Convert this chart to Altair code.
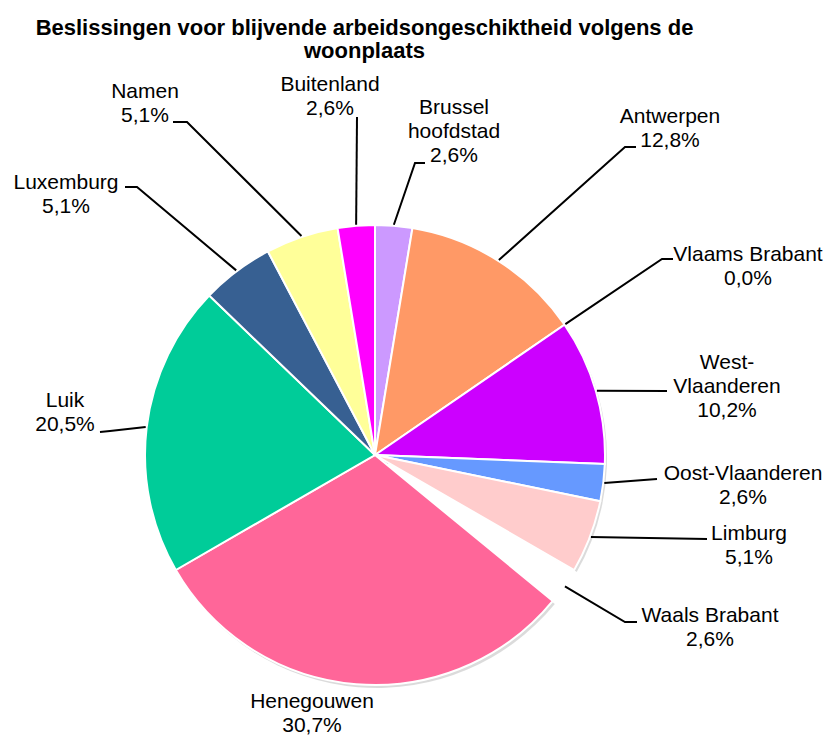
import math
import altair as alt
import pandas as pd

# ---- data ----
names = ["Brussel hoofdstad", "Antwerpen", "Vlaams Brabant", "West-Vlaanderen",
         "Oost-Vlaanderen", "Limburg", "Waals Brabant", "Henegouwen", "Luik",
         "Luxemburg", "Namen", "Buitenland"]
label_names = ["Brussel\nhoofdstad", "Antwerpen", "Vlaams Brabant", "West-\nVlaanderen",
               "Oost-Vlaanderen", "Limburg", "Waals Brabant", "Henegouwen", "Luik",
               "Luxemburg", "Namen", "Buitenland"]
shares = [2.6, 12.8, 0.0, 10.2, 2.6, 5.1, 2.6, 30.7, 20.5, 5.1, 5.1, 2.6]
colors = ["#CC99FF", "#FF9966", "#FF9933", "#CC00FF", "#6699FF", "#FFCCCC",
          "#FFFFFF", "#FF6699", "#00CC99", "#376092", "#FFFF99", "#FF00FF"]
exploded = ["Waals Brabant"]
title_lines = ["Beslissingen voor blijvende arbeidsongeschiktheid volgens de", "woonplaats"]

# ---- layout (page pixels) ----
CX, CY = 375, 455
RADIUS = 230
EXPLODE = 16
# (x centre, y centre of first text line)
label_pos = [(454, 108), (670, 117), (748, 255), (727, 363), (743, 474), (749, 534),
             (710, 616), (312, 702), (65, 401), (66, 183), (145, 92), (330, 85)]
leader_tail = [[(415, 163), (425, 163)], [(625, 147), (636, 147)], [(662, 259), (673, 259)],
               [(667, 391)], [(657, 479)], [(707, 539)], [(625, 622), (637, 622)], [],
               [(110, 431), (100, 432)], [(137, 187), (125, 187)], [(187, 122), (173, 122)],
               [(357, 117)]]

W, H = 819, 669
TOP = 60

total = sum(shares)
arc_rows, shadow_rows, text_rows, line_rows = [], [], [], []
cum = 0.0
for i, (n, v) in enumerate(zip(names, shares)):
    t0 = 2 * math.pi * cum / total
    t1 = 2 * math.pi * (cum + v) / total
    tm = (t0 + t1) / 2
    cum += v
    cx, cy = CX, CY
    if n in exploded:
        cx += EXPLODE * math.sin(tm)
        cy -= EXPLODE * math.cos(tm)
    if v > 0:
        arc_rows.append(dict(name=n, t0=t0, t1=t1, cx=cx, cy=cy))
        if n not in exploded:
            shadow_rows.append(dict(name=n, t0=t0, t1=t1, cx=cx + 2, cy=cy + 3))
    pct = f"{v:.1f}".replace(".", ",") + "%"
    text_rows.append(dict(name=n, label=label_names[i] + "\n" + pct,
                          x=label_pos[i][0], y=label_pos[i][1]))
    if leader_tail[i]:
        sx = CX + (RADIUS + 1) * math.sin(tm)
        sy = CY - (RADIUS + 1) * math.cos(tm)
        pts = [(sx, sy)] + leader_tail[i]
        for k, (px, py) in enumerate(pts):
            line_rows.append(dict(name=n, k=k, x=px, y=py))

arcs = pd.DataFrame(arc_rows)
shadows = pd.DataFrame(shadow_rows)
texts = pd.DataFrame(text_rows)
lines = pd.DataFrame(line_rows)

xs = alt.Scale(domain=[8, 8 + W], nice=False, zero=False)
ys = alt.Scale(domain=[8 + TOP, 8 + TOP + H], nice=False, zero=False, reverse=True)

shadow = alt.Chart(shadows).mark_arc(radius=RADIUS, color="#999999", opacity=0.35).encode(
    theta=alt.Theta("t0:Q", scale=None), theta2="t1:Q",
    x=alt.X("cx:Q", scale=xs, axis=None), y=alt.Y("cy:Q", scale=ys, axis=None))

pie = alt.Chart(arcs).mark_arc(radius=RADIUS, stroke="white", strokeWidth=2).encode(
    theta=alt.Theta("t0:Q", scale=None), theta2="t1:Q",
    x=alt.X("cx:Q", scale=xs, axis=None), y=alt.Y("cy:Q", scale=ys, axis=None),
    color=alt.Color("name:N", scale=alt.Scale(domain=names, range=colors), legend=None))

leaders = alt.Chart(lines).mark_line(color="black", strokeWidth=2).encode(
    x=alt.X("x:Q", scale=xs, axis=None), y=alt.Y("y:Q", scale=ys, axis=None),
    detail="name:N", order="k:Q")

labels = alt.Chart(texts).mark_text(font="Liberation Sans", fontSize=21, lineHeight=24,
                                    lineBreak="\n", align="center", baseline="middle",
                                    color="black").encode(
    x=alt.X("x:Q", scale=xs, axis=None), y=alt.Y("y:Q", scale=ys, axis=None),
    text="label:N")

chart = alt.layer(shadow, pie, leaders, labels).properties(
    width=W, height=H,
    autosize=alt.AutoSizeParams(type="none"),
    padding={"left": 0, "right": 0, "top": TOP, "bottom": 0},
    title=alt.Title(title_lines, font="Liberation Sans", fontSize=22, fontWeight="bold",
                    color="black", anchor="middle", dx=-53, offset=5, lineHeight=23),
).configure_view(stroke=None)

chart.save("out.html", embed_options={"renderer": "svg", "actions": False})
